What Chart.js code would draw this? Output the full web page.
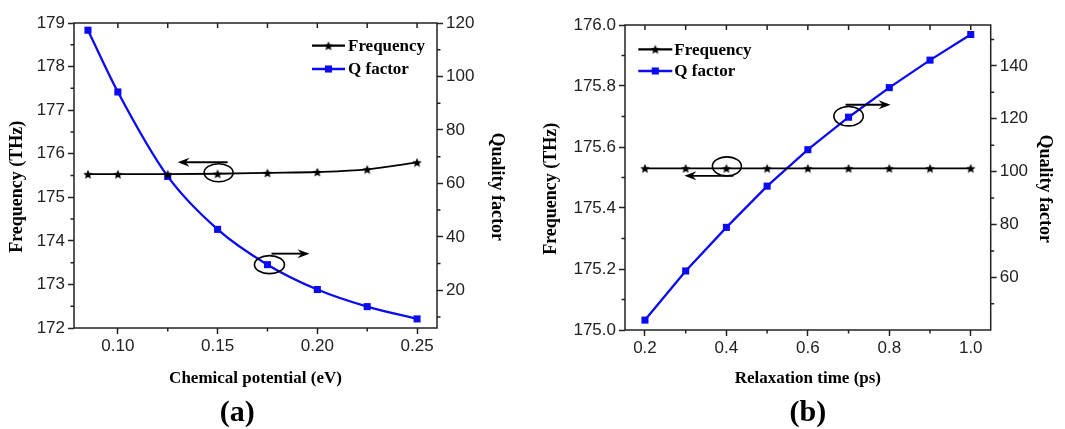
<!DOCTYPE html>
<html><head><meta charset="utf-8">
<script src="https://cdn.jsdelivr.net/npm/chart.js@4/dist/chart.umd.min.js"></script>
<style>
html,body{margin:0;padding:0;background:#fff;}
#wrap{position:relative;width:1065px;height:429px;overflow:hidden;}
.c{position:absolute;top:0;height:429px;}
#ca{left:0;width:530px;}
#cb{left:530px;width:535px;}
</style></head><body>
<div id="wrap">
<div class="c" id="ca"><canvas id="a" width="530" height="429"></canvas></div>
<div class="c" id="cb"><canvas id="b" width="535" height="429"></canvas></div>
</div>
<script>
// ---------- Panel (a): chemical potential sweep ----------
const potential = [0.085, 0.100, 0.125, 0.150, 0.175, 0.200, 0.225, 0.250];
const freqA     = [175.53, 175.53, 175.53, 175.54, 175.56, 175.58, 175.64, 175.80];
const qA        = [117.3, 94.2, 62.6, 42.8, 29.6, 20.3, 13.9, 9.3];
const xTicksA   = [0.10, 0.15, 0.20, 0.25];
const yTicksA   = [172, 173, 174, 175, 176, 177, 178, 179];
const y2TicksA  = [20, 40, 60, 80, 100, 120];

// ---------- Panel (b): relaxation time sweep ----------
const relax     = [0.2, 0.3, 0.4, 0.5, 0.6, 0.7, 0.8, 0.9, 1.0];
const freqB     = [175.53, 175.53, 175.53, 175.53, 175.53, 175.53, 175.53, 175.53, 175.53];
const qB        = [43.8, 62.4, 78.9, 94.5, 108.3, 120.6, 131.8, 142.2, 151.9];
const xTicksB   = [0.2, 0.4, 0.6, 0.8, 1.0];
const yTicksB   = [175.0, 175.2, 175.4, 175.6, 175.8, 176.0];
const y2TicksB  = [60, 80, 100, 120, 140];

const seriesNames = ['Frequency', 'Q factor'];
const axisTitles = {
  xA: 'Chemical potential (eV)', xB: 'Relaxation time (ps)',
  yLeft: 'Frequency (THz)', yRight: 'Quality factor'
};
const panelLabels = ['(a)', '(b)'];

// ---------- styles ----------
const SANS = '"Liberation Sans", Arial, sans-serif';
const SERIF = '"Liberation Serif", "Times New Roman", serif';
const AXIS = '#222';
const TXT = '#222';
const BLUE = '#0b0bf0';
const BLACK = '#000';
const NB = '\u00a0';

function starImg(r, color) {
  const s = Math.ceil(r * 2 + 2);
  const c = document.createElement('canvas');
  c.width = c.height = s;
  const g = c.getContext('2d');
  g.fillStyle = color;
  g.beginPath();
  for (let i = 0; i < 10; i++) {
    const ang = -Math.PI / 2 + i * Math.PI / 5;
    const rr = i % 2 ? r * 0.45 : r;
    g.lineTo(s / 2 + rr * Math.cos(ang), s / 2 + rr * Math.sin(ang) + 0.5);
  }
  g.closePath();
  g.fill();
  return c;
}
const STAR = starImg(5, BLACK);

const pts = (xs, ys) => xs.map((x, i) => ({x: x, y: ys[i]}));

// ---------- plugins ----------
const framePlugin = {
  id: 'frame',
  afterDraw(chart) {
    const {ctx, chartArea: a, scales} = chart;
    const mids = (s) => {
      const v = s.ticks.map(t => t.value);
      const step = v[1] - v[0];
      const out = [];
      for (let i = -1; i < v.length; i++) {
        const m = v[0] + (i + 0.5) * step;
        if (m >= s.min - 1e-9 && m <= s.max + 1e-9) out.push(m);
      }
      return out;
    };
    ctx.save();
    ctx.strokeStyle = AXIS;
    ctx.lineWidth = 1.5;
    ctx.strokeRect(a.left, a.top, a.right - a.left, a.bottom - a.top);
    ctx.beginPath();
    const x = scales.x;
    const xMin = mids(x);
    xMin.forEach(v => { const p = x.getPixelForValue(v); ctx.moveTo(p, a.bottom); ctx.lineTo(p, a.bottom + 3.5); });
    x.ticks.map(t => t.value).concat(xMin).forEach(v => {
      const p = x.getPixelForValue(v); ctx.moveTo(p, a.top); ctx.lineTo(p, a.top + 5);
    });
    const y = scales.y;
    mids(y).forEach(v => { const p = y.getPixelForValue(v); ctx.moveTo(a.left, p); ctx.lineTo(a.left - 3.5, p); });
    const y1 = scales.y1;
    mids(y1).forEach(v => { const p = y1.getPixelForValue(v); ctx.moveTo(a.right, p); ctx.lineTo(a.right + 3.5, p); });
    ctx.stroke();
    ctx.restore();
  }
};

const legendPlugin = {
  id: 'inlineLegend',
  afterDraw(chart, args, o) {
    const {ctx, chartArea: a} = chart;
    chart.data.datasets.forEach((ds, i) => {
      const y = a.top + o.y + i * o.gap;
      const x0 = a.left + o.x;
      ctx.save();
      ctx.strokeStyle = ds.borderColor;
      ctx.lineWidth = ds.borderWidth + 0.4;
      ctx.beginPath(); ctx.moveTo(x0, y); ctx.lineTo(x0 + o.len, y); ctx.stroke();
      ctx.fillStyle = ds.pointBackgroundColor;
      Chart.helpers.drawPoint(ctx, {pointStyle: ds.pointStyle, radius: ds.pointRadius, borderWidth: 0, rotation: 0}, x0 + o.len / 2, y);
      ctx.fillStyle = '#000';
      ctx.font = 'bold 17px ' + SERIF;
      ctx.textBaseline = 'middle';
      ctx.textAlign = 'left';
      ctx.fillText(ds.label, x0 + o.len + o.pad, y + 1);
      ctx.restore();
    });
  }
};

const notePlugin = {
  id: 'notes',
  afterDatasetsDraw(chart, args, o) {
    const ctx = chart.ctx;
    (o.items || []).forEach(it => {
      const p = chart.getDatasetMeta(it.ds).data[it.idx];
      ctx.save();
      ctx.strokeStyle = '#000'; ctx.fillStyle = '#000'; ctx.lineWidth = 1.6;
      ctx.beginPath();
      ctx.ellipse(p.x + it.ex, p.y + it.ey, it.rx, it.ry, 0, 0, 2 * Math.PI);
      ctx.stroke();
      const ay = p.y + it.ay, x0 = p.x + it.ax0, x1 = p.x + it.ax1;
      const dir = Math.sign(x1 - x0);
      ctx.lineWidth = 1.9;
      ctx.beginPath(); ctx.moveTo(x0, ay); ctx.lineTo(x1 - dir * 7, ay); ctx.stroke();
      ctx.beginPath();
      ctx.moveTo(x1, ay); ctx.lineTo(x1 - dir * 12, ay - 4.5); ctx.lineTo(x1 - dir * 8, ay); ctx.lineTo(x1 - dir * 12, ay + 4.5);
      ctx.closePath(); ctx.fill();
      ctx.restore();
    });
  }
};

const panelPlugin = {
  id: 'panelLabel',
  afterDraw(chart, args, o) {
    const {ctx, chartArea: a} = chart;
    ctx.save();
    ctx.fillStyle = '#000';
    ctx.font = 'bold 30px ' + SERIF;
    ctx.textAlign = 'center';
    ctx.textBaseline = 'middle';
    ctx.fillText(o.text, a.left + o.fx * (a.right - a.left), a.bottom + o.dy);
    ctx.restore();
  }
};

// ---------- builder ----------
function build(canvasId, cfg) {
  const tickFont = {family: SANS, size: 17};
  const titleFont = {family: SERIF, size: 17, weight: 'bold'};
  const yTitleFont = {family: SERIF, size: 18, weight: 'bold'};
  const grid = {drawOnChartArea: false, drawTicks: true, tickLength: 6, tickWidth: 1.5, tickColor: AXIS};
  return new Chart(document.getElementById(canvasId), {
    type: 'line',
    data: {
      datasets: [
        {label: seriesNames[0], data: pts(cfg.xs, cfg.freq), yAxisID: 'y',
         borderColor: BLACK, backgroundColor: BLACK, borderWidth: 1.8,
         pointStyle: STAR, pointRadius: 5, pointBackgroundColor: BLACK, pointBorderWidth: 0,
         cubicInterpolationMode: cfg.smooth ? 'monotone' : 'default', tension: 0, clip: false},
        {label: seriesNames[1], data: pts(cfg.xs, cfg.q), yAxisID: 'y1',
         borderColor: BLUE, backgroundColor: BLUE, borderWidth: 2.3,
         pointStyle: 'rect', pointRadius: 5, pointBackgroundColor: BLUE, pointBorderWidth: 0,
         cubicInterpolationMode: cfg.smooth ? 'monotone' : 'default', tension: 0, clip: false}
      ]
    },
    options: {
      responsive: false, animation: false, devicePixelRatio: 1,
      events: [],
      layout: {padding: {top: cfg.top, left: 0, right: 0, bottom: 0}},
      plugins: {
        legend: {display: false}, tooltip: {enabled: false},
        inlineLegend: cfg.legend,
        notes: {items: cfg.notes},
        panelLabel: cfg.panel
      },
      scales: {
        x: {type: 'linear', position: 'bottom', min: cfg.xMin, max: cfg.xMax,
            afterBuildTicks: s => { s.ticks = cfg.xTicks.map(v => ({value: v})); },
            afterFit: s => { s.height = cfg.xH; },
            ticks: {callback: v => v.toFixed(cfg.xDec), font: tickFont, color: TXT, padding: 2.5, maxRotation: 0, autoSkip: false},
            grid: grid, border: {display: false},
            title: {display: true, text: cfg.xTitle, font: titleFont, color: '#000', padding: {top: 0, bottom: cfg.xTitlePad}}},
        y: {type: 'linear', position: 'left', min: cfg.yMin, max: cfg.yMax,
            afterBuildTicks: s => { s.ticks = cfg.yTicks.map(v => ({value: v})); },
            afterFit: s => { s.width = cfg.yW; },
            ticks: {callback: v => v.toFixed(cfg.yDec), font: tickFont, color: TXT, padding: 3, autoSkip: false},
            grid: grid, border: {display: false},
            title: {display: true, text: axisTitles.yLeft + NB.repeat(5), font: yTitleFont, color: '#000', padding: {top: cfg.yTitlePad, bottom: 0}}},
        y1: {type: 'linear', position: 'right', min: cfg.y2Min, max: cfg.y2Max,
            afterBuildTicks: s => { s.ticks = cfg.y2Ticks.map(v => ({value: v})); },
            afterFit: s => { s.width = cfg.y2W; },
            ticks: {callback: v => String(v), font: tickFont, color: TXT, padding: 3, autoSkip: false},
            grid: grid, border: {display: false},
            title: {display: true, text: NB.repeat(5) + axisTitles.yRight, font: yTitleFont, color: '#000', padding: {top: cfg.y2TitlePad, bottom: 0}}}
      }
    },
    plugins: [framePlugin, legendPlugin, notePlugin, panelPlugin]
  });
}

build('a', {
  xs: potential, freq: freqA, q: qA, smooth: true, top: 23,
  xMin: 0.078, xMax: 0.26, xTicks: xTicksA, xDec: 2, xH: 101, xTitle: axisTitles.xA, xTitlePad: 40,
  yMin: 172, yMax: 179, yTicks: yTicksA, yDec: 0, yW: 74, yTitlePad: 6.2,
  y2Min: 5.9, y2Max: 120, y2Ticks: y2TicksA, y2W: 93, y2TitlePad: 22.2,
  legend: {x: 238, y: 22.7, gap: 23.3, len: 33, pad: 3},
  notes: [
    {ds: 0, idx: 3, ex: 1, ey: -1, rx: 14.5, ry: 9, ax0: 10, ax1: -40, ay: -11.5},
    {ds: 1, idx: 4, ex: 2, ey: 0, rx: 15, ry: 9, ax0: 4, ax1: 42, ay: -11}
  ],
  panel: {text: panelLabels[0], fx: 0.45, dy: 85}
});

build('b', {
  xs: relax, freq: freqB, q: qB, smooth: false, top: 25,
  xMin: 0.151, xMax: 1.049, xTicks: xTicksB, xDec: 1, xH: 99, xTitle: axisTitles.xB, xTitlePad: 40,
  yMin: 175.0, yMax: 176.0, yTicks: yTicksB, yDec: 1, yW: 95, yTitlePad: 10.2,
  y2Min: 40.05, y2Max: 155.5, y2Ticks: y2TicksB, y2W: 74.3, y2TitlePad: 9.2,
  legend: {x: 13.3, y: 24.3, gap: 21.7, len: 34, pad: 2},
  notes: [
    {ds: 0, idx: 2, ex: 0.5, ey: -2, rx: 14.5, ry: 9.5, ax0: 7, ax1: -42, ay: 7.5},
    {ds: 1, idx: 5, ex: 0, ey: -1, rx: 14.7, ry: 9.7, ax0: -3, ax1: 42, ay: -12.5}
  ],
  panel: {text: panelLabels[1], fx: 0.5, dy: 83}
});
</script>
</body></html>
